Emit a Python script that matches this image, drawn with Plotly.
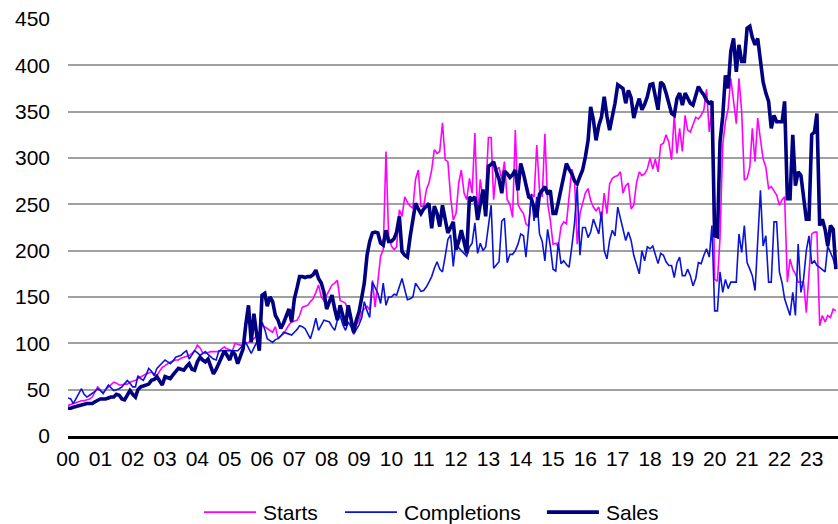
import pandas as pd
import plotly.graph_objects as go

# monthly observations, Jan 2000 - Oct 2023
months = pd.date_range("2000-01-01", periods=286, freq="MS")

starts = [
    33, 34, 35, 36, 37, 38, 38, 39, 40, 42, 48, 53,            # 2000
    50, 46, 50, 53, 55, 58, 57, 55, 55, 56, 56, 58,            # 2001
    59, 60, 62, 64, 65, 67, 68, 69, 67, 65, 70, 74,            # 2002
    76, 78, 80, 81, 82, 82, 84, 85, 86, 87, 89, 92,            # 2003
    98, 95, 90, 89, 90, 91, 91, 91, 91, 94, 96, 94,            # 2004
    93, 92, 100, 99, 98, 98, 100, 101, 103, 105, 108, 112,     # 2005
    119, 118, 116, 114, 112, 118, 105, 108, 110, 115, 120, 123,  # 2006
    124, 125, 130, 139, 140, 141, 145, 148, 155, 163, 150, 146,  # 2007
    152, 157, 163, 165, 168, 146, 145, 143, 135, 127, 110, 120,  # 2008
    125, 134, 137, 140, 136, 168, 139, 166, 194, 201, 307, 215,  # 2009
    205, 201, 204, 244, 237, 258, 252, 248, 246, 277, 287, 248,  # 2010
    248, 266, 273, 287, 309, 305, 307, 338, 298, 296, 258, 233,  # 2011
    240, 273, 287, 262, 255, 278, 262, 327, 236, 277, 255, 260,  # 2012
    322, 322, 255, 287, 290, 277, 296, 255, 250, 236, 330, 250,  # 2013
    244, 240, 229, 226, 261, 258, 314, 265, 258, 326, 251, 233,  # 2014
    207, 208, 204, 226, 231, 229, 258, 288, 276, 207, 240, 251,  # 2015
    262, 267, 254, 247, 243, 247, 233, 262, 240, 272, 278, 280,  # 2016
    281, 285, 262, 270, 273, 245, 249, 273, 285, 281, 283, 288,  # 2017
    300, 288, 299, 285, 314, 316, 325, 317, 298, 346, 305, 332,  # 2018
    307, 346, 330, 328, 335, 344, 342, 346, 352, 374, 328, 353,  # 2019
    169, 167, 213, 314, 339, 353, 386, 364, 337, 386, 350, 276,  # 2020
    278, 290, 332, 296, 343, 320, 299, 290, 267, 269, 265, 260,  # 2021
    249, 255, 258, 166, 191, 180, 175, 166, 166, 166, 133, 177,  # 2022
    218, 220, 220, 119, 130, 123, 130, 128, 137, 135,            # 2023
]

completions = [
    41, 40, 35, 40, 45, 51, 45, 42, 44, 46, 48, 51,            # 2000
    49, 46, 50, 55, 52, 49, 50, 51, 53, 56, 60, 57,            # 2001
    53, 53, 65, 62, 60, 66, 73, 70, 65, 73, 76, 80,            # 2002
    82, 80, 78, 81, 85, 86, 87, 90, 92, 83, 88, 92,            # 2003
    90, 87, 89, 91, 88, 85, 83, 82, 92, 92, 92, 92,            # 2004
    92, 92, 92, 92, 95, 98, 101, 95, 89, 95, 101, 110,         # 2005
    123, 115, 105, 103, 101, 104, 105, 108, 112, 111, 110, 109,  # 2006
    112, 115, 119, 118, 116, 110, 105, 115, 127, 114, 120, 125,  # 2007
    124, 123, 118, 114, 125, 130, 120, 114, 123, 118, 110, 115,  # 2008
    120, 128, 145, 135, 128, 166, 160, 154, 143, 165, 141, 150,  # 2009
    150, 153, 152, 160, 170, 158, 147, 148, 150, 165, 160, 156,  # 2010
    157, 161, 166, 172, 181, 188, 180, 177, 194, 212, 217, 183,  # 2011
    212, 203, 200, 197, 194, 204, 208, 230, 197, 208, 200, 204,  # 2012
    230, 249, 181, 185, 188, 232, 235, 187, 196, 196, 200, 207,  # 2013
    218, 216, 193, 225, 261, 232, 258, 218, 210, 189, 223, 205,  # 2014
    180, 178, 209, 186, 189, 185, 182, 204, 230, 269, 195, 225,  # 2015
    225, 214, 220, 234, 225, 218, 242, 200, 191, 211, 222, 216,  # 2016
    247, 235, 222, 211, 220, 211, 195, 185, 175, 200, 189, 204,  # 2017
    202, 205, 195, 186, 197, 195, 188, 184, 184, 171, 187, 193,  # 2018
    173, 173, 180, 173, 162, 170, 187, 186, 195, 202, 193, 227,  # 2019
    135, 135, 177, 155, 169, 159, 166, 166, 166, 218, 198, 227,  # 2020
    187, 180, 173, 157, 210, 265, 205, 216, 166, 166, 231, 231,  # 2021
    177, 165, 148, 140, 130, 155, 130, 207, 155, 169, 200, 216,  # 2022
    186, 189, 184, 182, 180, 177, 205, 198, 191, 180,            # 2023
]

sales = [
    30, 30, 31, 32, 33, 34, 35, 35, 35, 35, 37, 39,            # 2000
    40, 40, 40, 41, 42, 42, 45, 44, 40, 39, 45, 49,            # 2001
    45, 42, 50, 53, 54, 55, 56, 60, 61, 64, 60, 55,            # 2002
    64, 63, 62, 66, 70, 73, 72, 71, 75, 78, 72, 71,            # 2003
    80, 85, 82, 80, 83, 76, 67, 72, 78, 85, 92, 86,            # 2004
    82, 91, 88, 78, 86, 94, 120, 141, 101, 132, 110, 92,       # 2005
    152, 154, 140, 150, 145, 130, 125, 116, 122, 130, 137, 123,  # 2006
    148, 160, 172, 172, 171, 172, 172, 174, 179, 170, 165, 155,  # 2007
    137, 145, 152, 137, 125, 141, 130, 119, 141, 125, 112, 125,  # 2008
    134, 150, 165, 195, 210, 219, 220, 219, 208, 206, 222, 210,  # 2009
    210, 213, 220, 237, 199, 195, 193, 215, 235, 251, 245, 240,  # 2010
    245, 248, 251, 224, 248, 240, 226, 249, 235, 219, 225, 231,  # 2011
    201, 210, 222, 210, 197, 258, 255, 258, 233, 250, 266, 237,  # 2012
    291, 293, 296, 285, 277, 262, 286, 283, 279, 282, 287, 265,  # 2013
    294, 283, 270, 258, 256, 247, 236, 261, 266, 269, 261, 265,  # 2014
    240, 240, 252, 265, 280, 294, 288, 283, 275, 272, 280, 287,  # 2015
    301, 319, 355, 341, 319, 335, 344, 366, 345, 330, 345, 359,  # 2016
    379, 377, 375, 359, 373, 365, 343, 355, 364, 352, 358, 366,  # 2017
    379, 380, 364, 352, 382, 379, 370, 357, 348, 346, 364, 370,  # 2018
    357, 370, 365, 359, 357, 368, 377, 372, 368, 362, 359, 361,  # 2019
    216, 215, 317, 345, 389, 375, 415, 429, 393, 422, 404, 404,  # 2020
    440, 442, 430, 422, 429, 405, 382, 370, 361, 332, 346, 339,  # 2021
    339, 339, 361, 256, 256, 325, 270, 285, 281, 260, 234, 234,  # 2022
    325, 328, 348, 227, 234, 223, 205, 227, 223, 180,            # 2023
]

series_names = ["Starts", "Completions", "Sales"]
series_values = [starts, completions, sales]
series_colors = ["#FF00FF", "#0A14D8", "#000080"]
series_widths = [1.6, 1.6, 3.6]

font_family = "Liberation Sans, Arial, sans-serif"

fig = go.Figure()

for name, vals, color, width in zip(series_names, series_values, series_colors, series_widths):
    fig.add_trace(go.Scatter(
        x=months, y=vals, name=name, mode="lines",
        line=dict(color=color, width=width),
        showlegend=False,
    ))

# hand-made legend below the plot (Excel style: long line swatch, then label)
legend_x = [0.1766, 0.3597, 0.622]   # paper x of each swatch start
legend_y = -0.182
swatch_len = 0.0675
for name, color, width, lx in zip(series_names, series_colors, series_widths, legend_x):
    fig.add_shape(
        type="line", xref="paper", yref="paper",
        x0=lx, x1=lx + swatch_len, y0=legend_y, y1=legend_y,
        line=dict(color=color, width=width),
    )
    fig.add_annotation(
        xref="paper", yref="paper", x=lx + swatch_len + 0.006, y=legend_y,
        text=name, showarrow=False, xanchor="left", yanchor="middle",
        font=dict(size=21, color="#000000"),
    )

fig.update_layout(
    width=838,
    height=524,
    margin=dict(l=68, r=0, t=18, b=88, autoexpand=False),
    paper_bgcolor="white",
    plot_bgcolor="white",
    font=dict(family=font_family, size=21, color="#000000"),
    showlegend=False,
)

fig.update_xaxes(
    type="date",
    range=["2000-01-01", "2023-10-25"],
    dtick="M12",
    tick0="2000-01-01",
    tickformat="%y",
    showgrid=False,
    showline=True,
    linecolor="#000000",
    linewidth=3,
    ticks="",
    ticklabelstandoff=2,
)

# top of the range a hair above 450 so the 450 gridline is not dropped at the edge
fig.update_yaxes(
    range=[0, 451],
    dtick=50,
    showgrid=True,
    gridcolor="#A0A0A0",
    gridwidth=1.5,
    zeroline=False,
    showline=False,
    ticks="",
    ticklabelstandoff=17,
)

# drop the default 8px page margin so the chart fills the window exactly
fig.write_html(
    "out.html",
    config={"displayModeBar": False},
    post_script="document.body.style.margin = '0';",
)
